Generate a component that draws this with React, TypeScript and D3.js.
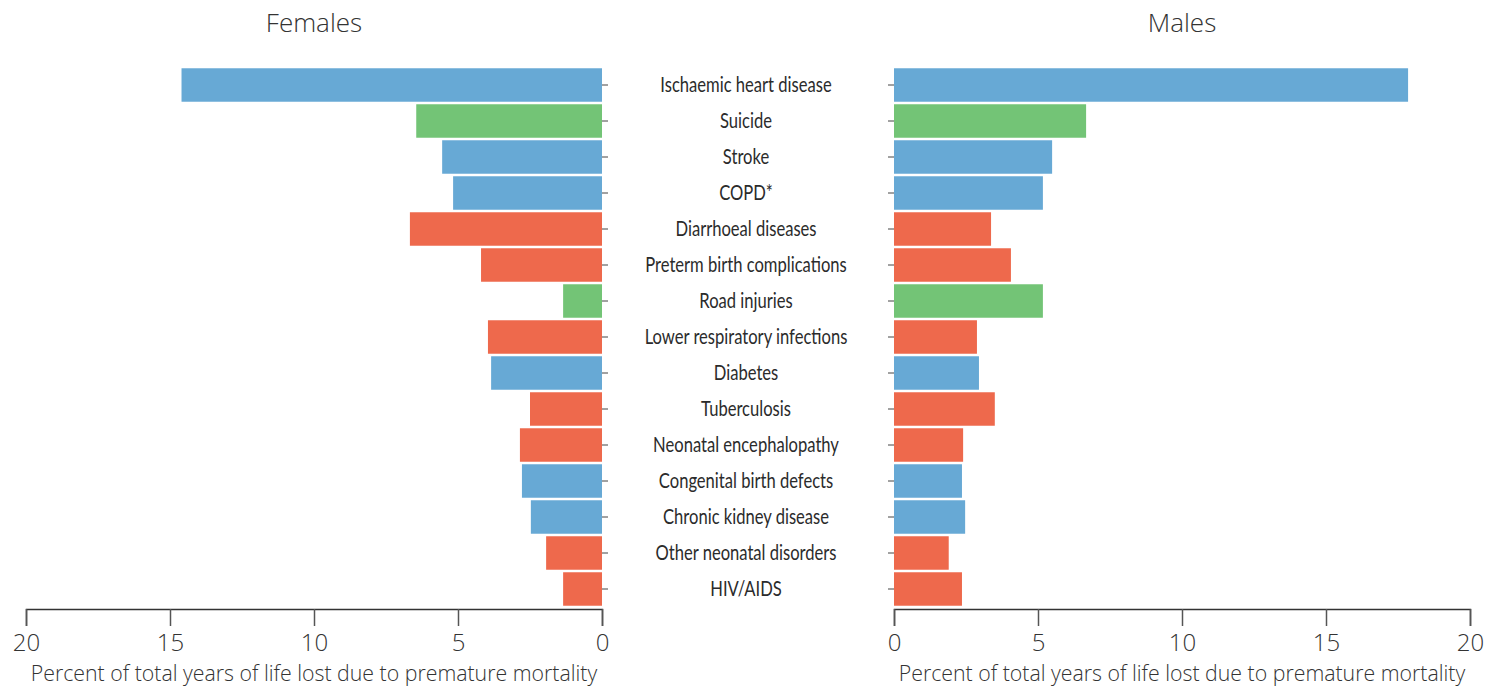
import React, { useRef, useEffect } from "react";
import * as d3 from "d3";

const causes = [
  "Ischaemic heart disease",
  "Suicide",
  "Stroke",
  "COPD*",
  "Diarrhoeal diseases",
  "Preterm birth complications",
  "Road injuries",
  "Lower respiratory infections",
  "Diabetes",
  "Tuberculosis",
  "Neonatal encephalopathy",
  "Congenital birth defects",
  "Chronic kidney disease",
  "Other neonatal disorders",
  "HIV/AIDS",
];

// group: ncd = non-communicable, inj = injuries, cmn = communicable/maternal/neonatal
const groups = ["ncd", "inj", "ncd", "ncd", "cmn", "cmn", "inj", "cmn", "ncd", "cmn", "cmn", "ncd", "ncd", "cmn", "cmn"];

const females = [14.6, 6.45, 5.55, 5.17, 6.67, 4.2, 1.35, 3.96, 3.85, 2.5, 2.85, 2.78, 2.47, 1.94, 1.35];
const males = [17.85, 6.67, 5.49, 5.17, 3.37, 4.06, 5.17, 2.88, 2.95, 3.5, 2.4, 2.36, 2.47, 1.9, 2.36];

const ticks = [0, 5, 10, 15, 20];

const colors: Record<string, string> = {
  ncd: "#67a9d5",
  inj: "#73c476",
  cmn: "#ee694c",
};

const W = 1488;
const H = 687;
const labelFont = "'Open Sans', Lato, sans-serif";

const App = () => {
  const svgRef = useRef<SVGSVGElement>(null);

  useEffect(() => {
    const svg = d3.select(svgRef.current);
    svg.selectAll("*").remove();

    const y = d3.scaleBand().domain(causes).range([67, 607]).paddingInner(0.07).paddingOuter(0.035);
    const xL = d3.scaleLinear().domain([0, 20]).range([602, 26]);
    const xR = d3.scaleLinear().domain([0, 20]).range([894, 1470]);

    const panels = [
      { name: "Females", x: xL, values: females, tickX: 602, dir: 1 },
      { name: "Males", x: xR, values: males, tickX: 894, dir: -1 },
    ];

    panels.forEach((p) => {
      const g = svg.append("g");

      g.selectAll("rect")
        .data(p.values)
        .enter()
        .append("rect")
        .attr("x", (d) => Math.min(p.x(0), p.x(d)))
        .attr("width", (d) => Math.abs(p.x(d) - p.x(0)))
        .attr("y", (d, i) => y(causes[i])!)
        .attr("height", y.bandwidth())
        .attr("fill", (d, i) => colors[groups[i]]);

      // category ticks
      g.selectAll("line.cat")
        .data(causes)
        .enter()
        .append("line")
        .attr("class", "cat")
        .attr("x1", p.tickX)
        .attr("x2", p.tickX + 6 * p.dir)
        .attr("y1", (d) => y(d)! + y.bandwidth() / 2)
        .attr("y2", (d) => y(d)! + y.bandwidth() / 2)
        .attr("stroke", "#444")
        .attr("stroke-width", 1);

      const axis = d3
        .axisBottom(p.x)
        .tickValues(ticks)
        .tickSize(17)
        .tickSizeOuter(17)
        .tickPadding(8)
        .tickFormat(d3.format("d"));

      const ax = g.append("g").attr("transform", "translate(0,609)").call(axis);
      ax.select(".domain").attr("stroke", "#333").attr("stroke-width", 1.5);
      ax.selectAll(".tick line").attr("stroke", "#555").attr("stroke-width", 1.5);
      ax.selectAll(".tick text")
        .attr("fill", "#333")
        .style("font-family", labelFont)
        .style("font-weight", "300")
        .style("font-size", "24px");

      const [r0, r1] = p.x.range();
      const mid = (r0 + r1) / 2;

      g.append("text")
        .attr("x", mid)
        .attr("y", 681)
        .attr("text-anchor", "middle")
        .attr("fill", "#333")
        .style("font-family", labelFont)
        .style("font-weight", "300")
        .style("font-size", "21.3px")
        .text("Percent of total years of life lost due to premature mortality");

      g.append("text")
        .attr("x", mid)
        .attr("y", 32)
        .attr("text-anchor", "middle")
        .attr("fill", "#333")
        .style("font-family", labelFont)
        .style("font-weight", "300")
        .style("font-size", "26px")
        .text(p.name);
    });

    // condensed category labels in the middle
    svg
      .append("g")
      .selectAll("text")
      .data(causes)
      .enter()
      .append("text")
      .attr("transform", (d) => `translate(746,${y(d)! + y.bandwidth() / 2}) scale(0.79,1)`)
      .attr("dy", "0.35em")
      .attr("text-anchor", "middle")
      .attr("fill", "#2b2b2b")
      .style("font-family", "Lato, sans-serif")
      .style("font-size", "21px")
      .text((d) => d);
  }, []);

  return (
    <svg
      ref={svgRef}
      width={W}
      height={H}
      style={{ position: "absolute", left: 0, top: 0, background: "#fff" }}
    ></svg>
  );
};

export default App;
